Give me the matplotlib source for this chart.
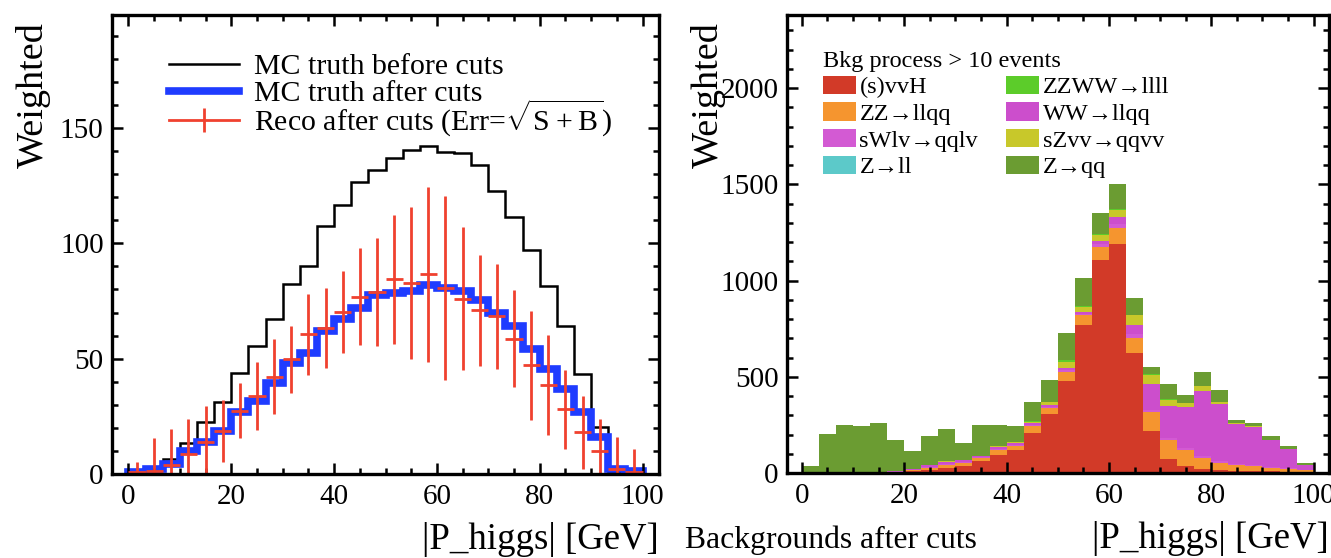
"""Higgs momentum: MC truth vs reco (left) and stacked backgrounds after cuts (right)."""

import matplotlib

matplotlib.use("Agg")
import matplotlib.pyplot as plt
import numpy as np
from matplotlib.legend_handler import HandlerTuple
from matplotlib.lines import Line2D
from matplotlib.patches import Patch
from matplotlib.ticker import MultipleLocator

plt.rcParams["font.family"] = ["Liberation Serif", "DejaVu Serif"]
plt.rcParams["mathtext.fontset"] = "custom"
plt.rcParams["mathtext.rm"] = "Liberation Serif"

P_MIN, P_MAX, N_BINS = 0.0, 100.0, 30

# ---- left panel: signal |P_higgs|
truth_before = [1, 2, 6.5, 13.5, 22.5, 31, 44, 55.5, 67, 82.5,
                90, 107.5, 116.5, 126.5, 132, 137, 140.5, 142, 139.5, 139,
                134, 122.5, 111.5, 97, 81.5, 64, 43.5, 20.5, 0.7, 0]
truth_after = [0.7, 2, 4.3, 10, 13.7, 18.7, 26.7, 31.7, 39.6, 48.3,
               52.6, 62, 67, 72, 77.8, 78.5, 79.3, 82, 80.7, 79.3,
               75.6, 70, 64, 54, 45.4, 36.7, 26.7, 16, 2, 1.5]
reco_after = [0.7, 1.4, 3.9, 8.6, 13.7, 18.7, 27.4, 33.9, 42.2, 49.7,
              60.5, 63.4, 70.2, 76.8, 79, 84.5, 82.9, 86.5, 80.7, 75.9,
              71, 68.4, 58.6, 47.1, 38.5, 28, 18, 10, 2, 0.7]
reco_err = [4.5, 14, 15.6, 15.4, 15.8, 13.5, 12, 14.8, 16.2, 14.4,
            17.4, 17.4, 17.6, 21, 23.5, 28, 33, 37.8, 40, 31,
            24, 22.7, 21, 23.7, 21.6, 17.3, 16, 14, 14, 10]

# ---- right panel: background processes (stacked, bottom first)
bkg_labels = ["(s)vvH", "ZZ→llqq", "Z→ll", "sWlv→qqlv", "WW→llqq",
              "sZvv→qqvv", "ZZWW→llll", "Z→qq"]
bkg_colors = ["#d23a28", "#f5952f", "#5cc9c9", "#d35ad3", "#cc4ecc",
              "#c8c82a", "#5ccc2a", "#6b9c32"]
svvh = [0, 0, 0, 0, 2, 3, 8, 17, 28, 38,
        60, 95, 121, 210, 305, 478, 770, 1108, 1190, 622,
        216, 72, 34, 21, 17, 12, 12, 9, 5, 2]
zz_llqq = [0, 0, 0, 0, 1, 3, 5, 9, 12, 12,
           18, 22, 17, 35, 33, 46, 51, 68, 82, 80,
           103, 100, 87, 57, 35, 31, 22, 17, 16, 12]
z_ll = [0, 0, 0, 0, 0, 1, 4, 2, 0, 0,
        0, 0, 0, 0, 0, 0, 0, 0, 0, 0,
        0, 0, 0, 0, 0, 0, 0, 0, 0, 0]
swlv_qqlv = [0, 0, 0, 0, 0, 2, 1, 5, 8, 7,
             4, 7, 7, 6, 7, 9, 7, 12, 22, 20,
             10, 8, 8, 10, 8, 5, 5, 4, 3, 1]
ww_llqq = [0, 0, 0, 0, 0, 1, 1, 7, 10, 9,
           4, 10, 10, 8, 10, 13, 10, 18, 35, 47,
           133, 168, 216, 340, 299, 207, 202, 139, 100, 28]
szvv_qqvv = [0, 0, 0, 0, 0, 0, 0, 1, 2, 2,
             4, 4, 5, 8, 13, 29, 23, 30, 38, 50,
             47, 31, 21, 24, 12, 5, 3, 2, 1, 0]
zzww_llll = [0, 0, 0, 0, 0, 0, 0, 0, 0, 0,
             0, 0, 0, 2, 2, 14, 5, 5, 5, 4,
             3, 3, 0, 0, 0, 0, 0, 0, 0, 0]
z_qq = [36, 205, 250, 242, 255, 160, 93, 152, 170, 88,
        159, 111, 86, 99, 115, 136, 146, 111, 131, 87,
        41, 83, 37, 75, 59, 14, 18, 19, 15, 8]
# legend order in the picture (two columns)
legend_order = ["(s)vvH", "ZZ→llqq", "sWlv→qqlv", "Z→ll",
                "ZZWW→llll", "WW→llqq", "sZvv→qqvv", "Z→qq"]

TICK_FS = 21
XLABEL_FS = 26.5
YLABEL_FS = 27.5
BLACK = "black"
BLUE = "#1f3cff"
RED = "#f0412f"


def style_axes(ax, xmaj, xmin, ymaj, ymin):
    for sp in ax.spines.values():
        sp.set_linewidth(2.4)
    ax.xaxis.set_major_locator(MultipleLocator(xmaj))
    ax.xaxis.set_minor_locator(MultipleLocator(xmin))
    ax.yaxis.set_major_locator(MultipleLocator(ymaj))
    ax.yaxis.set_minor_locator(MultipleLocator(ymin))
    ax.tick_params(which="both", direction="in", top=True, right=True,
                   width=1.8, labelsize=TICK_FS)
    ax.tick_params(which="major", length=8)
    ax.tick_params(which="minor", length=4)
    ax.tick_params(axis="x", pad=7)
    ax.tick_params(axis="y", pad=6)
    ax.set_xlabel("|P_higgs| [GeV]", fontsize=XLABEL_FS, loc="right")
    ax.xaxis.set_label_coords(1.0, -0.105)
    ax.set_ylabel("Weighted", fontsize=YLABEL_FS, loc="top")


def plot_signal(ax, edges):
    centers = 0.5 * (edges[:-1] + edges[1:])
    half = 0.5 * (edges[1] - edges[0])
    ax.stairs(truth_before, edges, color=BLACK, linewidth=1.8)
    ax.stairs(truth_after, edges, color=BLUE, linewidth=5.5)
    ax.errorbar(centers, reco_after, yerr=reco_err, xerr=half, fmt="none",
                ecolor=RED, elinewidth=2.0, capsize=0)
    ax.set_xlim(-3.2, 103.2)
    ax.set_ylim(0, 199)
    style_axes(ax, 20, 5, 50, 10)
    ax.yaxis.set_label_coords(-0.111, 0.985)

    leg_kw = dict(frameon=False, fontsize=21.5, handlelength=2.35,
                  handletextpad=0.5, borderpad=0, borderaxespad=0, loc="center left")
    truth_handles = [Line2D([], [], color=BLACK, linewidth=1.8),
                     Line2D([], [], color=BLUE, linewidth=5.5)]
    leg1 = ax.legend(truth_handles, ["MC truth before cuts", "MC truth after cuts"],
                     bbox_to_anchor=(0.104, 0.858), labelspacing=0.0, **leg_kw)
    ax.add_artist(leg1)
    reco_handle = (Line2D([], [], color=RED, linewidth=2.0),
                   Line2D([], [], color=RED, linestyle="none", marker="|",
                          markersize=17, markeredgewidth=2.0))
    ax.legend([reco_handle], [r"Reco after cuts (Err=$\sqrt{\mathrm{S+B}}$)"],
              bbox_to_anchor=(0.104, 0.776),
              handler_map={tuple: HandlerTuple(ndivide=1)}, **leg_kw)


def plot_backgrounds(ax, edges):
    series = [svvh, zz_llqq, z_ll, swlv_qqlv, ww_llqq, szvv_qqvv, zzww_llll, z_qq]
    bottom = np.zeros(N_BINS)
    for values, color in zip(series, bkg_colors):
        values = np.asarray(values, dtype=float)
        ax.stairs(bottom + values, edges, baseline=bottom, fill=True,
                  color=color, linewidth=0)
        bottom = bottom + values
    ax.set_xlim(-2.9, 103.0)
    ax.set_ylim(0, 2380)
    style_axes(ax, 20, 5, 500, 100)
    ax.yaxis.set_label_coords(-0.112, 0.985)
    colors = dict(zip(bkg_labels, bkg_colors))
    handles = [Patch(facecolor=colors[name], edgecolor="none") for name in legend_order]
    ax.legend(handles, legend_order, ncol=2, loc="upper left",
              bbox_to_anchor=(0.066, 0.922), frameon=False, fontsize=17.5,
              title="Bkg process > 10 events", title_fontsize=17.5,
              alignment="left", handlelength=1.36, handleheight=0.8,
              handletextpad=0.15, labelspacing=0.16, columnspacing=1.15,
              borderpad=0, borderaxespad=0)


def main():
    edges = np.linspace(P_MIN, P_MAX, N_BINS + 1)
    fig = plt.figure(figsize=(13.31, 5.58), dpi=100)
    ax_sig = fig.add_axes([112 / 1331, 84 / 558, 547 / 1331, 459 / 558])
    ax_bkg = fig.add_axes([787 / 1331, 85 / 558, 542 / 1331, 458 / 558])
    plot_signal(ax_sig, edges)
    plot_backgrounds(ax_bkg, edges)
    fig.text(685 / 1331, 1 - 548 / 558, "Backgrounds after cuts",
             fontsize=22.8, ha="left", va="baseline")
    fig.savefig("out.png", dpi=100)
    plt.close(fig)


if __name__ == "__main__":
    main()
